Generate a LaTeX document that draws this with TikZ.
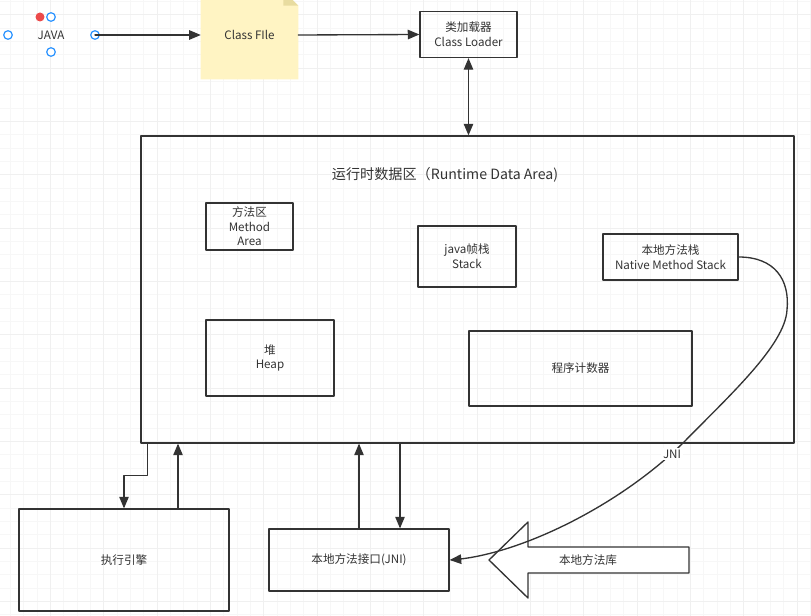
\documentclass[tikz,border=0pt]{standalone}
\usepackage{fontspec}
\setmainfont{Noto Sans CJK SC}
\usepackage{tikz}
\usetikzlibrary{
  calc,
  arrows
}
\definecolor{ink}{RGB}{51,51,51}
\definecolor{notefill}{RGB}{255,244,195}
\definecolor{notefold}{RGB}{232,220,160}
\definecolor{pinblue}{RGB}{41,146,255}
\definecolor{pinred}{RGB}{236,74,74}

\begin{document}
\begin{tikzpicture}[line cap=round,line join=round,>=triangle 45,x=0.75pt,y=-0.75pt,
  box/.style={draw=ink,line width=1pt,text=ink,align=center,font=\fontsize{8.7}{11}\selectfont,inner sep=0pt},
  plain/.style={text=ink,align=center,font=\fontsize{8.7}{11}\selectfont,inner sep=1pt},
  wire/.style={draw=ink,line width=1pt},
  pin/.style={draw=pinblue,line width=0.9pt,fill=white}]
\useasboundingbox (0,0) rectangle (811,616);
\fill[white] (0,0) rectangle (811,616);
\foreach \k in {0,...,61} \draw[gray!6,line width=0.75pt] (-2.67+13.333*\k,0) -- (-2.67+13.333*\k,616);
\foreach \k in {0,...,46} \draw[gray!6,line width=0.75pt] (0,1.67+13.333*\k) -- (811,1.67+13.333*\k);
\foreach \k in {0,...,16} \draw[gray!12,line width=0.75pt] (-2.67+53.333*\k,0) -- (-2.67+53.333*\k,616);
\foreach \k in {0,...,11} \draw[gray!12,line width=0.75pt] (0,15+53.333*\k) -- (811,15+53.333*\k);

\node[plain] (java) at (51,35) {JAVA};
\coordinate (jr) at (95,35);
\draw[pin] (8,35) circle (4.3);
\draw[pin] (51,17) circle (4.3);
\draw[pin] (51,52) circle (4.3);
\draw[pin] (jr) circle (4.3);
\fill[pinred] (40,17) circle (4.5);

\node[minimum width=72.75pt,minimum height=66pt,inner sep=0pt] (cf) at (249.5,35) {};
\fill[notefill] (cf.south west) -- (cf.north west) -- ($(cf.north east)+(-15,0)$) -- ($(cf.north east)+(0,15)$) -- (cf.south east) -- cycle;
\fill[notefold] ($(cf.north east)+(-15,0)$) -- ($(cf.north east)+(-15,15)$) -- ($(cf.north east)+(0,15)$) -- cycle;
\node[plain] (cftext) at (cf) {Class FIle};

\node[box,minimum width=72.75pt,minimum height=34.5pt] (loader) at (468.5,34.5) {类加载器\\Class Loader};

\node[box,minimum width=489.75pt,minimum height=230.25pt] (rda) at (467.5,289.5) {};
\node[plain,font=\fontsize{10.6}{13}\selectfont] (rdatitle) at (445,175) {运行时数据区（Runtime Data Area)};
\node[box,minimum width=65.25pt,minimum height=35.25pt] (method) at (249.5,226.5) {方法区\\Method\\Area};
\node[box,minimum width=73.5pt,minimum height=45.75pt] (stack) at (467,256.5) {java帧栈\\Stack};
\node[box,minimum width=101.25pt,minimum height=34.5pt] (native) at (670.5,257) {本地方法栈\\Native Method Stack};
\node[box,minimum width=96pt,minimum height=57pt] (heap) at (270,358) {堆\\Heap};
\node[box,minimum width=167.25pt,minimum height=56.25pt] (pc) at (580.5,368.5) {程序计数器};

\node[box,minimum width=157.5pt,minimum height=76.5pt] (engine) at (124,560) {执行引擎};
\node[box,minimum width=135pt,minimum height=46.5pt] (jni) at (359,560) {本地方法接口(JNI)};

\draw[wire,fill=white] (489,560) -- (528,522) -- (528,547) -- (689,547) -- (689,573) -- (528,573) -- (528,598) -- cycle;
\node[plain] (lib) at (588,560) {本地方法库};

\draw[wire,->] (jr) -- (cf.west);
\draw[wire,->] (cf.east) -- (loader.west);
\draw[wire,<->] (loader.south) -- (loader.south |- rda.north);
\draw[wire,->] ($(rda.south west)+(7,0)$) -- ++(0,32) -| (engine.north);
\draw[wire,->] ([xshift=40.5pt]engine.north) -- ([xshift=40.5pt]engine.north |- rda.south);
\draw[wire,->] (jni.north) -- (jni.north |- rda.south);
\draw[wire,->] ([xshift=30.75pt]jni.north |- rda.south) -- ([xshift=30.75pt]jni.north);
\draw[wire,->] (native.east) .. controls (775,257) and (790,280) .. (787,310) .. controls (785,345) and (730,395) .. (683,443) .. controls (620,505) and (520,555) .. (jni.east);
\node[plain,fill=white,inner sep=1.5pt] (jnilabel) at (672,454) {JNI};
\end{tikzpicture}
\end{document}
